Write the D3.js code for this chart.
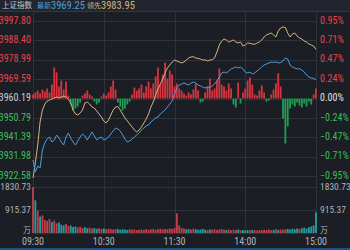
<!DOCTYPE html>
<html>
<head>
<meta charset="utf-8">
<script src="https://cdn.jsdelivr.net/npm/d3@7"></script>
<style>
  html, body { margin: 0; padding: 0; background: #1b1e24; }
  svg { display: block; }
</style>
</head>
<body>
<div id="chart"></div>
<script>
//----- DATA ---------------------------------------//
var PREV_CLOSE = 3960.19;
var LATEST = 3969.25;
var LEADING = 3983.95;
var STEP_MIN = 2; // one sample every 2 minutes, 09:30 .. 15:00

var PRICE_TICKS = [3997.80, 3988.40, 3978.99, 3969.59, 3960.19, 3950.79, 3941.39, 3931.98, 3922.58];
var VOLUME_TICKS = [1830.73, 915.37, 0];
var TIME_LABELS = ['09:30', '10:30', '11:30', '14:00', '15:00'];
var TIME_MINUTES = [0, 60, 120, 180, 240];

// 最新 (index)
var PRICE = [
    3930.34, 3924.52, 3927.43, 3926.46, 3935.20, 3938.59, 3940.54, 3941.51, 3939.08, 3940.05,
    3942.48, 3941.02, 3939.08, 3937.62, 3941.51, 3943.45, 3941.02, 3939.08, 3937.62, 3939.57,
    3941.51, 3942.96, 3941.99, 3940.05, 3941.99, 3943.93, 3941.99, 3940.05, 3941.02, 3941.51,
    3940.05, 3940.54, 3941.51, 3942.96, 3944.42, 3945.87, 3945.39, 3944.42, 3942.48, 3940.54,
    3939.08, 3939.57, 3940.54, 3941.51, 3942.48, 3943.45, 3944.90, 3945.87, 3946.85, 3947.33,
    3948.79, 3949.76, 3950.73, 3951.21, 3952.67, 3953.64, 3954.61, 3956.07, 3957.52, 3958.98,
    3962.37, 3965.29, 3966.74, 3967.23, 3967.71, 3967.23, 3966.74, 3967.71, 3968.20, 3967.71,
    3966.74, 3966.26, 3965.77, 3965.29, 3965.77, 3965.60, 3966.26, 3967.23, 3968.68, 3970.62,
    3972.57, 3973.05, 3972.57, 3973.54, 3974.51, 3974.99, 3975.48, 3974.99, 3975.48, 3974.51,
    3973.05, 3972.57, 3973.05, 3972.08, 3972.57, 3973.54, 3974.51, 3975.48, 3976.45, 3976.93,
    3977.42, 3977.90, 3977.70, 3978.00, 3977.42, 3977.60, 3978.39, 3979.85, 3979.36, 3976.45,
    3975.48, 3974.99, 3974.51, 3974.70, 3974.02, 3973.05, 3971.59, 3970.62, 3970.14, 3970.00,
    3969.25
];

// 领先 (leading index)
var LEAD = [
    3921.61, 3928.89, 3937.62, 3948.79, 3954.61, 3957.52, 3958.98, 3959.46, 3959.95, 3960.43,
    3960.92, 3960.43, 3960.92, 3961.40, 3960.92, 3959.95, 3958.01, 3954.61, 3952.67, 3952.18,
    3953.15, 3954.61, 3958.01, 3958.49, 3957.52, 3956.07, 3955.58, 3954.12, 3952.67, 3951.21,
    3949.27, 3948.30, 3949.76, 3952.18, 3954.61, 3956.07, 3956.30, 3954.61, 3952.67, 3950.73,
    3949.27, 3947.82, 3946.36, 3944.90, 3943.93, 3944.90, 3946.36, 3948.30, 3950.24, 3952.67,
    3956.07, 3958.49, 3961.89, 3964.80, 3967.23, 3969.65, 3972.57, 3974.99, 3976.45, 3977.90,
    3978.87, 3978.39, 3977.90, 3977.42, 3977.90, 3978.87, 3979.85, 3980.33, 3980.50, 3979.85,
    3979.70, 3979.36, 3978.87, 3978.95, 3978.39, 3978.87, 3979.00, 3979.85, 3982.76, 3986.15,
    3988.10, 3989.07, 3988.58, 3987.61, 3988.10, 3988.58, 3987.61, 3987.12, 3987.61, 3985.67,
    3986.15, 3987.12, 3987.00, 3986.64, 3986.50, 3987.12, 3987.61, 3988.58, 3990.04, 3991.01,
    3991.49, 3991.98, 3991.01, 3990.04, 3992.95, 3994.40, 3994.89, 3994.70, 3991.98, 3990.04,
    3991.49, 3991.98, 3990.52, 3989.55, 3989.07, 3988.10, 3987.61, 3986.64, 3986.15, 3985.67,
    3983.95
];

// 红绿柱 (buy / sell strength)
var STRENGTH = [
    4, 6, 8, 5, 9, 7, 10, 6, 14, 31,
    26, 12, 18, 9, 17, 3, -6, -12, -10, -8,
    -4, 3, 5, 8, 4, 2, -3, -6, -4, 2,
    5, 3, 6, 12, 18, 9, -4, -8, -12, -10,
    -6, -3, 4, 11, 8, 10, 14, 6, 12, 17,
    10, 15, 22, 31, 14, 24, 36, 20, 28, 24,
    12, 15, 10, 8, 5, 3, 6, 4, 9, 15,
    8, -4, -3, 6, 12, 20, 8, 10, 18, 30,
    14, 12, 8, 15, 10, -6, -9, 16, -5, 6,
    10, 18, 21, 14, 4, 3, 8, 13, 6, -3,
    -2, 4, 9, 15, 25, 12, -20, -45, -28, -10,
    -6, -8, -4, -7, -9, -5, -8, -3, -6, 4,
    10
];

// 成交量 (万)
var VOLUME = [
    1830.73, 1300, 900, 650, 700, 520, 480, 560, 440, 500,
    380, 420, 330, 300, 360, 280, 300, 240, 260, 220,
    250, 200, 230, 190, 210, 180, 200, 170, 190, 160,
    180, 150, 170, 160, 140, 150, 160, 130, 150, 140,
    120, 150, 130, 140, 120, 130, 140, 120, 150, 130,
    140, 160, 130, 150, 170, 140, 160, 150, 180, 160,
    200, 780, 300, 200, 180, 150, 160, 140, 170, 150,
    130, 140, 160, 130, 120, 140, 130, 150, 120, 140,
    160, 130, 120, 140, 110, 130, 120, 140, 110, 120,
    100, 120, 110, 130, 110, 100, 120, 110, 130, 120,
    140, 110, 130, 150, 120, 140, 130, 150, 160, 140,
    170, 150, 180, 160, 190, 210, 180, 230, 260, 300,
    820
];

(function (d3) {
    'use strict';

        //----- SETTINGS -----------------------------------//
    var WIDTH = 350,
        HEIGHT = 250,
        LEFT = 33,
        RIGHT = 316,
        FRAME_TOP = 12,
        MAIN_TOP = 21,
        MAIN_BOTTOM = 176,
        VOL_TOP = 187,
        VOL_BOTTOM = 233,
        TIME_Y = 242,
        HEADER_H = 11,
        BAR_W = 1.8,
        FONT = "'Liberation Sans Narrow', 'Arial Narrow', 'Roboto Condensed', sans-serif",
        CJK = "'Noto Sans CJK SC', sans-serif",
        BG = '#1b1e24',
        GRID = '#2e3239',
        UP = '#e6434e',
        DOWN = '#3cbf5c',
        FLAT = '#c8cbd0',
        AXIS_TEXT = '#aeb2b9',
        BLUE = '#4f9ddf',
        GOLD = '#d6b47c';

    //----- SCALES -------------------------------------//
    var x = d3.scaleLinear().domain([0, 240]).range([LEFT, RIGHT]);
    var y = d3.scaleLinear().domain([3922.58, 3997.80]).range([MAIN_BOTTOM, MAIN_TOP]);
    var ys = d3.scaleLinear().domain([-77.5, 77.5]).range([MAIN_BOTTOM, MAIN_TOP]);
    var yv = d3.scaleLinear().domain([0, 1830.73]).range([VOL_BOTTOM, VOL_TOP]);

    var svg = d3.select('#chart').append('svg')
        .attr('width', WIDTH)
        .attr('height', HEIGHT);

    svg.append('rect')
        .attr('width', WIDTH).attr('height', HEIGHT)
        .attr('fill', BG);

    //----- HEADER -------------------------------------//
    svg.append('rect')
        .attr('width', WIDTH).attr('height', HEADER_H)
        .attr('fill', '#21252d');
    svg.append('line')
        .attr('x1', 0).attr('x2', WIDTH)
        .attr('y1', HEADER_H + 0.5).attr('y2', HEADER_H + 0.5)
        .attr('stroke', '#2c3a4e');

    var head = svg.append('text')
        .attr('y', 6)
        .attr('dominant-baseline', 'middle');
    head.append('tspan').attr('x', 2)
        .attr('font-family', CJK).attr('font-size', 7.5)
        .attr('fill', '#c6c9cf').text('上证指数');
    head.append('tspan').attr('x', 37)
        .attr('font-family', CJK).attr('font-size', 7)
        .attr('fill', BLUE).text('最新');
    head.append('tspan')
        .attr('font-family', FONT).attr('font-size', 10.5)
        .attr('fill', BLUE).text(d3.format('.2f')(LATEST));
    head.append('tspan').attr('x', 87)
        .attr('font-family', CJK).attr('font-size', 7)
        .attr('fill', GOLD).text('领先');
    head.append('tspan')
        .attr('font-family', FONT).attr('font-size', 10.5)
        .attr('fill', GOLD).text(d3.format('.2f')(LEADING));

    //----- GRID ---------------------------------------//
    var grid = svg.append('g').attr('stroke', GRID).attr('shape-rendering', 'crispEdges');

    grid.selectAll('.h-main')
        .data(PRICE_TICKS).enter()
        .append('line')
            .attr('x1', LEFT).attr('x2', RIGHT)
            .attr('y1', function (d) { return Math.round(y(d)) + 0.5; })
            .attr('y2', function (d) { return Math.round(y(d)) + 0.5; });

    grid.selectAll('.h-vol')
        .data(VOLUME_TICKS).enter()
        .append('line')
            .attr('x1', LEFT).attr('x2', RIGHT)
            .attr('y1', function (d) { return Math.round(yv(d)) + 0.5; })
            .attr('y2', function (d) { return Math.round(yv(d)) + 0.5; });

    grid.selectAll('.v')
        .data(TIME_MINUTES).enter()
        .append('line')
            .attr('x1', function (d) { return Math.round(x(d)) + 0.5; })
            .attr('x2', function (d) { return Math.round(x(d)) + 0.5; })
            .attr('y1', FRAME_TOP).attr('y2', VOL_BOTTOM);

    //----- STRENGTH BARS ------------------------------//
    svg.append('g').selectAll('rect')
        .data(STRENGTH).enter()
        .append('rect')
            .attr('x', function (d, i) { return x(i * STEP_MIN) - BAR_W / 2; })
            .attr('width', BAR_W)
            .attr('y', function (d) { return Math.min(ys(d), ys(0)); })
            .attr('height', function (d) { return Math.abs(ys(d) - ys(0)); })
            .attr('fill', function (d) { return d >= 0 ? '#d8343f' : '#1f9f55'; });

    //----- VOLUME BARS --------------------------------//
    svg.append('g').selectAll('rect')
        .data(VOLUME).enter()
        .append('rect')
            .attr('x', function (d, i) { return x(i * STEP_MIN) - BAR_W / 2; })
            .attr('width', BAR_W)
            .attr('y', function (d) { return yv(d); })
            .attr('height', function (d) { return yv(0) - yv(d); })
            .attr('fill', function (d, i) {
                return (i === 0 || PRICE[i] >= PRICE[i - 1]) ? '#c0414b' : '#23a0a0';
            });

    //----- LINES --------------------------------------//
    var line = d3.line()
        .x(function (d, i) { return x(i * STEP_MIN); })
        .y(function (d) { return y(d); });

    svg.append('path')
        .datum(LEAD)
        .attr('d', line)
        .attr('fill', 'none')
        .attr('stroke', GOLD)
        .attr('stroke-width', 1);

    svg.append('path')
        .datum(PRICE)
        .attr('d', line)
        .attr('fill', 'none')
        .attr('stroke', BLUE)
        .attr('stroke-width', 1);

    //----- AXIS LABELS --------------------------------//
    function tickColor(d) {
        if (Math.abs(d - PREV_CLOSE) < 0.005) return FLAT;
        return d > PREV_CLOSE ? UP : DOWN;
    }

    var labels = svg.append('g')
        .attr('font-family', FONT)
        .attr('font-size', 10)
        .attr('dominant-baseline', 'middle');

    labels.selectAll('.pl')
        .data(PRICE_TICKS).enter()
        .append('text')
            .attr('x', LEFT - 2)
            .attr('y', function (d) { return y(d); })
            .attr('text-anchor', 'end')
            .attr('fill', tickColor)
            .text(d3.format('.2f'));

    labels.selectAll('.pr')
        .data(PRICE_TICKS).enter()
        .append('text')
            .attr('x', RIGHT + 4)
            .attr('y', function (d) { return y(d); })
            .attr('fill', function (d) {
                return Math.abs(d - PREV_CLOSE) < 0.005 ? '#dfe1e4' : tickColor(d);
            })
            .text(function (d) {
                var pct = (d - PREV_CLOSE) / PREV_CLOSE * 100;
                return d3.format('.2f')(Math.abs(pct) < 0.005 ? 0 : pct) + '%';
            });

    function volText(d) {
        return d === 0 ? '万' : d3.format('.2f')(d);
    }

    labels.selectAll('.vl')
        .data(VOLUME_TICKS).enter()
        .append('text')
            .attr('x', LEFT - 2)
            .attr('y', function (d) { return d === 0 ? yv(d) - 2 : yv(d); })
            .attr('text-anchor', 'end')
            .attr('fill', AXIS_TEXT)
            .attr('font-family', function (d) { return d === 0 ? CJK : null; })
            .attr('font-size', function (d) { return d === 0 ? 8 : 9.5; })
            .text(volText);

    labels.selectAll('.vr')
        .data(VOLUME_TICKS).enter()
        .append('text')
            .attr('x', RIGHT + 4)
            .attr('y', function (d) { return d === 0 ? yv(d) - 2 : yv(d); })
            .attr('fill', AXIS_TEXT)
            .attr('font-family', function (d) { return d === 0 ? CJK : null; })
            .attr('font-size', function (d) { return d === 0 ? 8 : 9.5; })
            .text(volText);

    labels.selectAll('.t')
        .data(TIME_LABELS).enter()
        .append('text')
            .attr('x', function (d, i) { return x(TIME_MINUTES[i]); })
            .attr('y', TIME_Y)
            .attr('text-anchor', 'middle')
            .attr('fill', AXIS_TEXT)
            .text(function (d) { return d; });

    //----- BOTTOM STRIP -------------------------------//
    svg.append('rect')
        .attr('y', HEIGHT - 2).attr('width', WIDTH).attr('height', 2)
        .attr('fill', '#1f4f86');

})(d3);
</script>
</body>
</html>
